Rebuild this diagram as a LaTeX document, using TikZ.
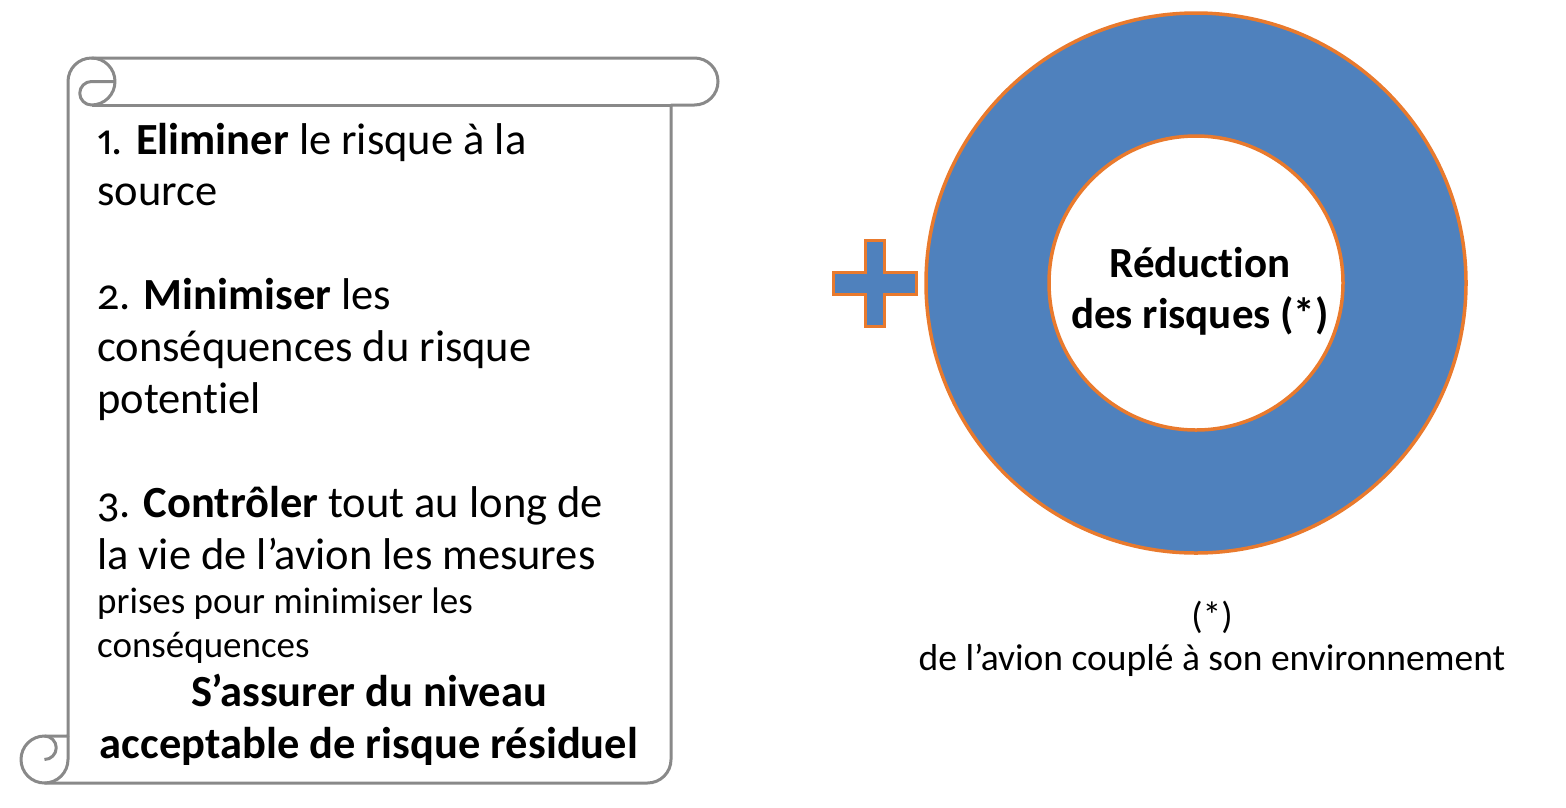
\documentclass[tikz,border=0pt]{standalone}
\usepackage{fontspec}
\setmainfont{Carlito}[Numbers={OldStyle,Proportional}, Ligatures=NoCommon]
\definecolor{ringblue}{HTML}{4F81BD}
\definecolor{ringorange}{HTML}{E97A2D}
\definecolor{scrollgray}{HTML}{898989}
\begin{document}
\begin{tikzpicture}[x=1pt,y=-1pt,
  scrollline/.style={draw=scrollgray, line width=3pt, line join=round},
  bigtxt/.style={anchor=base west, inner sep=0pt, font=\fontsize{44.5}{52}\selectfont},
  smalltxt/.style={anchor=base west, inner sep=0pt, font=\fontsize{37}{44}\selectfont},
  boldtxt/.style={anchor=base, inner sep=0pt, font=\fontsize{44.5}{52}\selectfont\bfseries},
  ringtxt/.style={anchor=base, inner sep=0pt, font=\fontsize{43}{51}\selectfont\bfseries},
  notetxt/.style={anchor=base, inner sep=0pt, font=\fontsize{37.5}{42}\selectfont},
  orangeline/.style={draw=ringorange, line width=3.5pt}]
\useasboundingbox (0,0) rectangle (1566,807);
% scroll outline
\path[scrollline, fill=white] (68,736) -- (68,81.5)
  arc[start angle=180, end angle=270, radius=23.5] -- (694.5,58)
  arc[start angle=270, end angle=450, radius=23.5] -- (671,105) -- (671,759.5)
  arc[start angle=0, end angle=90, radius=23.5] -- (44.5,783)
  arc[start angle=90, end angle=270, radius=23.5] -- cycle;
% top curl
\path[scrollline] (91.5,58)
  arc[start angle=270, end angle=450, radius=23.5]
  arc[start angle=90, end angle=270, radius=11.75] -- (115,81.5);
\path[scrollline] (91.5,105) -- (671,105);
% bottom curl
\path[scrollline] (44.5,759.5) arc[start angle=90, end angle=-90, radius=11.75];
\path[scrollline] (68,736) -- (68,759.5) arc[start angle=0, end angle=90, radius=23.5];
% scroll text
\node[bigtxt] (l1) at (97,154) {1. \textbf{Eliminer} le risque à la};
\node[bigtxt] (l2) at (97,205) {source};
\node[bigtxt] (l3) at (97,309) {2. \textbf{Minimiser} les};
\node[bigtxt] (l4) at (97,361) {conséquences du risque};
\node[bigtxt] (l5) at (97,413) {potentiel};
\node[bigtxt] (l6) at (97,517) {3. \textbf{Contrôler} tout au long de};
\node[bigtxt] (l7) at (97,569) {la vie de l’avion les mesures};
\node[smalltxt] (l8) at (97,613) {prises pour minimiser les};
\node[smalltxt] (l9) at (97,657) {conséquences};
\node[boldtxt] (b1) at (369,706) {S’assurer du niveau};
\node[boldtxt] (b2) at (369,758) {acceptable de risque résiduel};
% plus sign
\path[orangeline, fill=ringblue] (865.5,240.5) -- (884.5,240.5) -- (884.5,272.5) -- (916.5,272.5)
  -- (916.5,294.5) -- (884.5,294.5) -- (884.5,326.5) -- (865.5,326.5) -- (865.5,294.5)
  -- (833.5,294.5) -- (833.5,272.5) -- (865.5,272.5) -- cycle;
% ring
\node[circle, orangeline, fill=ringblue, inner sep=0pt, minimum size=540pt] (outer) at (1196,283) {};
\node[circle, orangeline, fill=white, inner sep=0pt, minimum size=294pt] (inner) at (1196,283) {};
\node[ringtxt] (r1) at (1200,277) {Réduction};
\node[ringtxt] (r2) at (1200,328) {des risques (*)};
\node[notetxt] (n1) at (1212,628) {(*)};
\node[notetxt] (n2) at (1212,670) {de l’avion couplé à son environnement};
\end{tikzpicture}
\end{document}
